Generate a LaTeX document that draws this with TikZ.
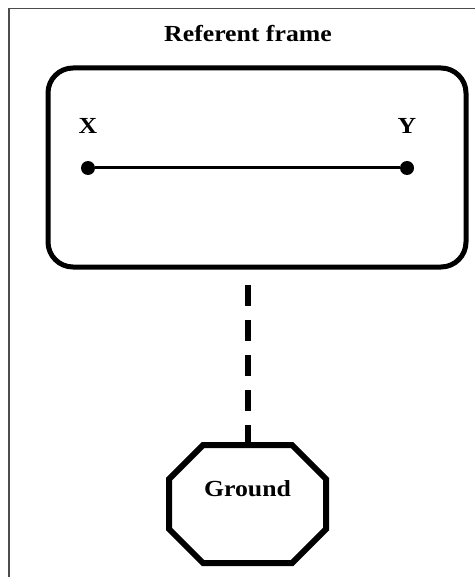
\documentclass[tikz,border=0pt]{standalone}
\usepackage{fontspec}
\setmainfont{Liberation Serif}[FakeStretch=1.12]
\usetikzlibrary{positioning}

\begin{document}
\begin{tikzpicture}[x=1pt, y=1pt, node distance=26pt]
\tikzset{
  refbox/.style={draw, rounded corners=25pt, line width=5pt, minimum width=418pt, minimum height=199pt},
  point/.style={circle, fill, inner sep=0pt, minimum size=14pt},
  lbl/.style={font=\fontsize{23}{26}\selectfont\bfseries, inner sep=0pt},
  groundbox/.style={rectangle, outer sep=0pt, minimum width=157pt, minimum height=118pt, text height=16pt, text depth=32pt},
  octagon/.style={line width=6pt},
  link/.style={line width=6pt, dash pattern=on 21pt off 14pt, shorten <=15.5pt}
}
\useasboundingbox (0,0) rectangle (475,-577);
\draw[line width=1.2pt, black!70] (9,-577) -- (9,-8.5) -- (475,-8.5);

\node[refbox] (frame) at (257,-167.5) {};
\node[lbl, anchor=base] (title) at (248,-42) {Referent frame};
\node[point] (xdot) at (88,-168) {};
\node[point] (ydot) at (407,-168) {};
\node[lbl, above=27pt of xdot] (xlabel) {X};
\node[lbl, above=27pt of ydot] (ylabel) {Y};
\draw[line width=3pt] (xdot) -- (ydot);

% ground, octagon cut from its box
\node[lbl, groundbox] (ground) at (247.5,-504) {Ground};
\draw[octagon] ([xshift=34pt]ground.north west) -- ([xshift=-34pt]ground.north east)
  -- ([yshift=-34pt]ground.north east) -- ([yshift=34pt]ground.south east)
  -- ([xshift=-34pt]ground.south east) -- ([xshift=34pt]ground.south west)
  -- ([yshift=34pt]ground.south west) -- ([yshift=-34pt]ground.north west) -- cycle;
\draw[link] (frame.south -| ground.north) -- (ground.north);
\end{tikzpicture}
\end{document}
